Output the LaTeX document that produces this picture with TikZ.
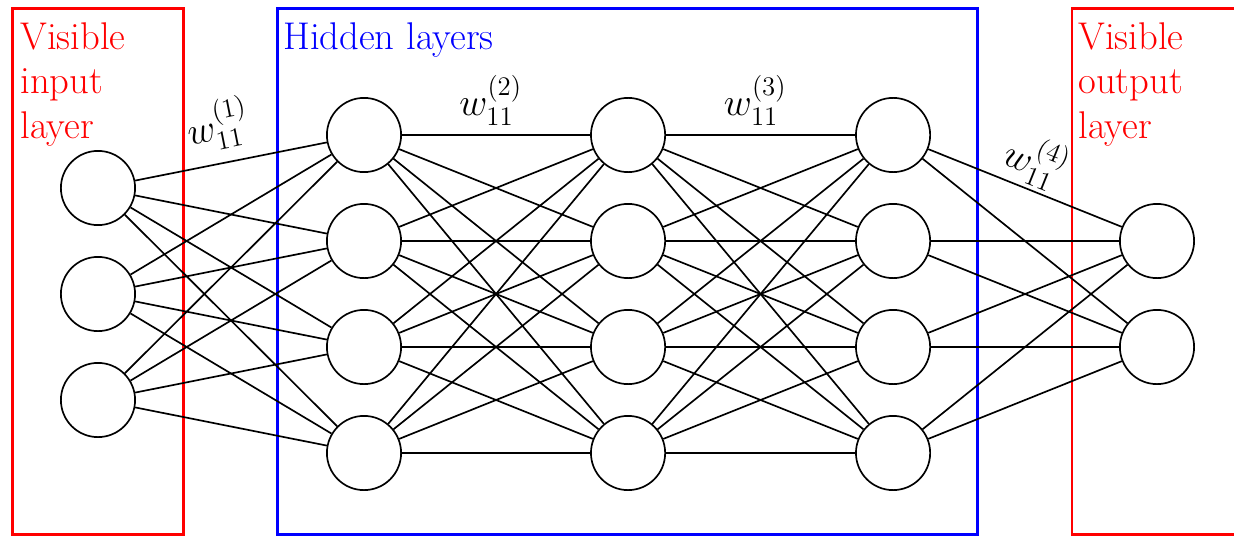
\documentclass[tikz,border=0pt]{standalone}
\usepackage{amsmath}
\begin{document}
\begin{tikzpicture}[x=1cm, y=1cm,
    neuron/.style={circle, draw, line width=0.9pt, minimum size=1.4cm, inner sep=0pt},
    conn/.style={line width=0.9pt},
    layerbox/.style={line width=1.6pt},
    boxtext/.style={anchor=north west, inner sep=0pt, align=left, font=\fontsize{20.74}{24}\selectfont},
    weight/.style={font=\huge, inner sep=2pt}]
  \useasboundingbox (0,0) rectangle (23.283,-10.132);
  \clip (0,0) rectangle (23.283,-10.132);
  % boxes round the layers
  \draw[red, layerbox] (0.245,-10.09) rectangle (3.453,-0.151);
  \draw[blue, layerbox] (5.245,-10.09) rectangle (18.434,-0.151);
  \draw[red, layerbox] (20.226,-10.09) rectangle (23.6,-0.151);
  \node[boxtext, red] (inlabel) at (0.377,-0.415) {Visible\\input\\layer};
  \node[boxtext, blue] (hidlabel) at (5.34,-0.415) {Hidden layers};
  \node[boxtext, red] (outlabel) at (20.34,-0.415) {Visible\\output\\layer};

  % neurons
  \foreach \i in {1,2,3}
    \node[neuron] (in\i) at (1.849,{-1.547-2*\i}) {};
  \foreach \l/\x in {1/6.868, 2/11.85, 3/16.85}
    \foreach \i in {1,...,4}
      \node[neuron] (h\l\i) at (\x,{-0.547-2*\i}) {};
  \foreach \i in {1,2}
    \node[neuron] (out\i) at (21.83,{-2.547-2*\i}) {};

  % weights
  \foreach \i in {1,2,3}
    \foreach \j in {1,...,4}
      \draw[conn] (in\i) -- (h1\j);
  \foreach \a/\b in {1/2, 2/3}
    \foreach \i in {1,...,4}
      \foreach \j in {1,...,4}
        \draw[conn] (h\a\i) -- (h\b\j);
  \foreach \i in {1,...,4}
    \foreach \j in {1,2}
      \draw[conn] (h3\i) -- (out\j);

  \path (in1) -- (h11) node[pos=0.47, above=5pt, sloped, weight] (w1) {$w_{11}^{(1)}$};
  \path (h11) -- (h21) node[midway, above=3pt, weight, xshift=-0.1cm] (w2) {$w_{11}^{(2)}$};
  \path (h21) -- (h31) node[midway, above=3pt, weight, xshift=-0.1cm] (w3) {$w_{11}^{(3)}$};
  \path (h31) -- (out1) node[midway, above, sloped, weight] (w4) {$w_{11}^{(4)}$};
\end{tikzpicture}
\end{document}
